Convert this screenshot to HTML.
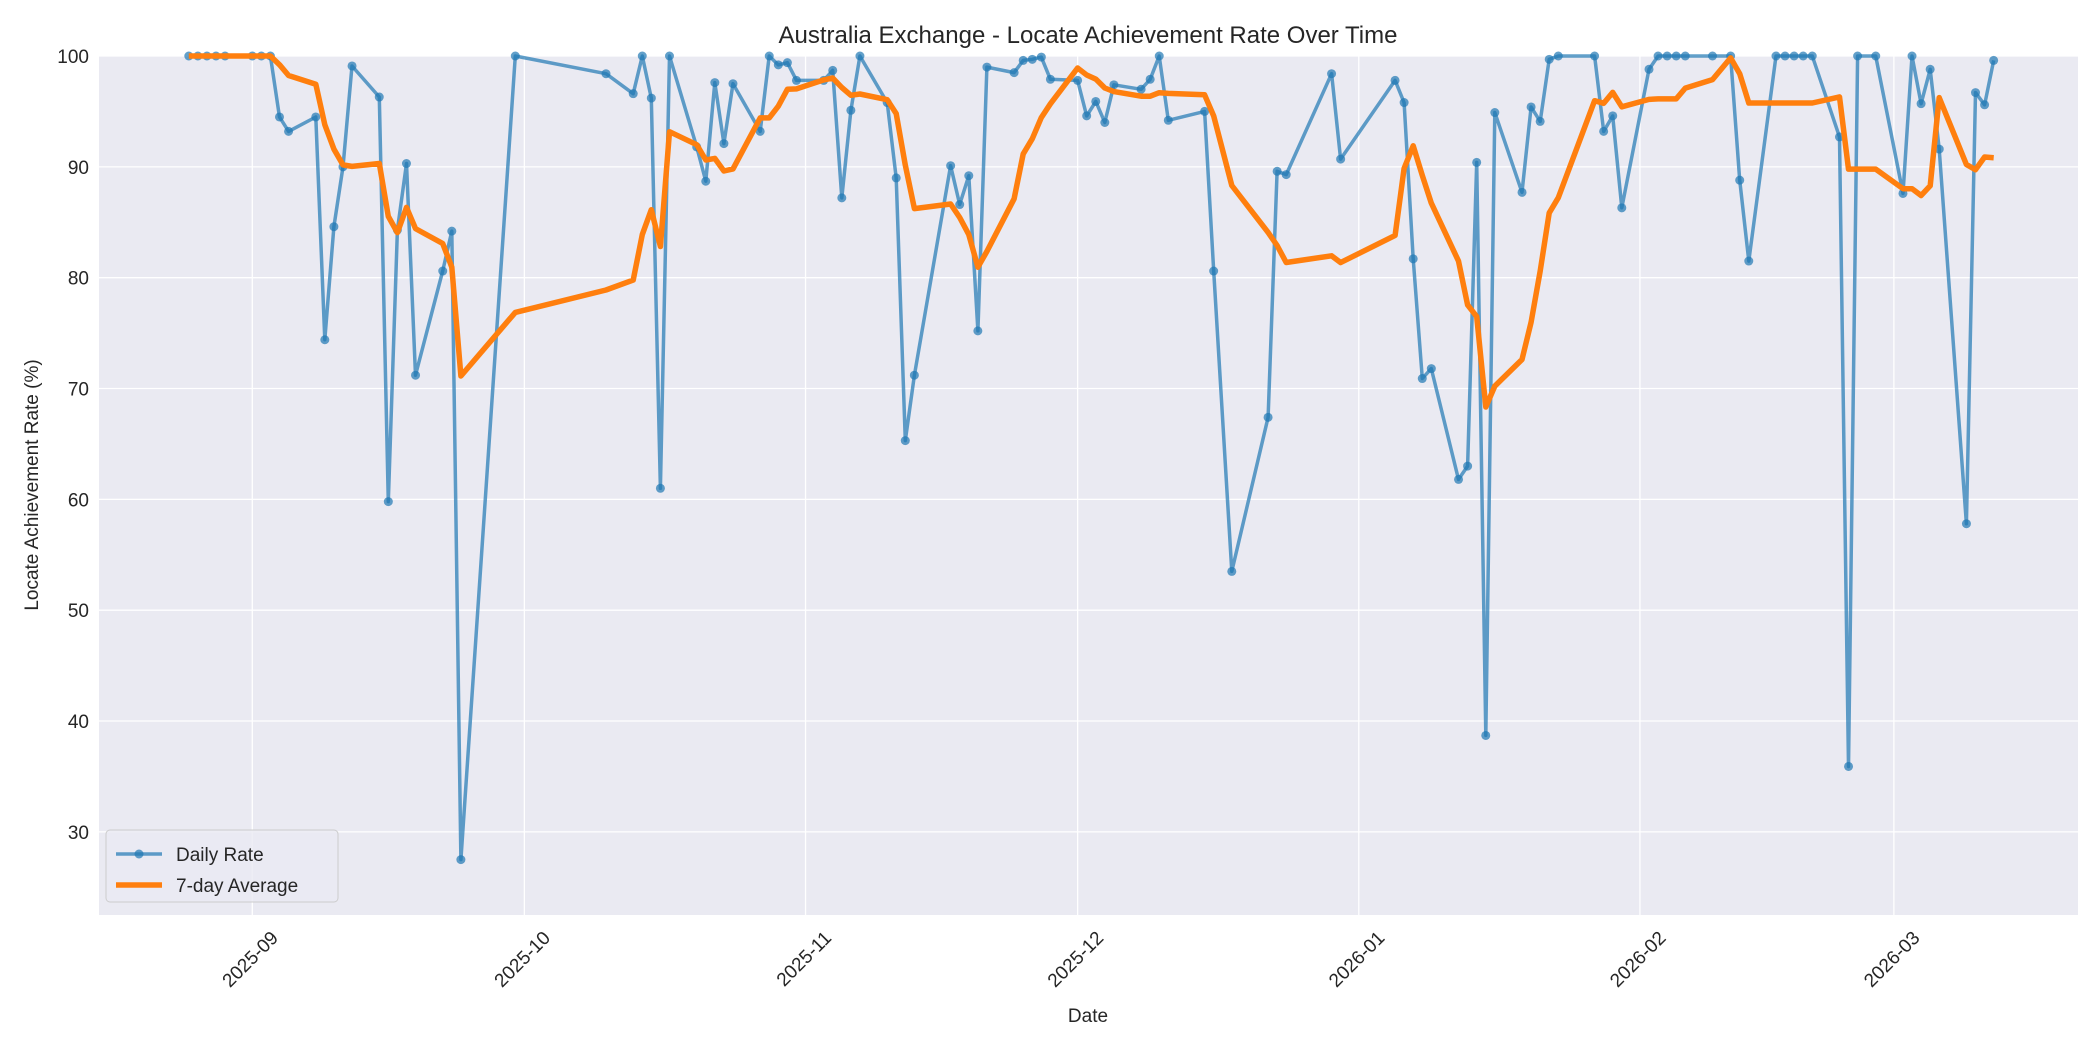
<!DOCTYPE html>
<html><head><meta charset="utf-8"><style>
html,body{margin:0;padding:0;background:#fff}
svg{display:block;font-family:"Liberation Sans","DejaVu Sans",sans-serif}
</style></head><body>
<svg id="chart" width="2100" height="1050" xmlns="http://www.w3.org/2000/svg">
<rect x="0" y="0" width="2100" height="1050" fill="#fff"/>
<rect x="99" y="56" width="1979" height="859" fill="#eaeaf2"/>
<g id="grid"></g>
<g id="ticks"></g>
<g id="series"></g>
<text x="1088" y="43" text-anchor="middle" font-size="24" fill="#262626">Australia Exchange - Locate Achievement Rate Over Time</text>
<text x="1088" y="1022" text-anchor="middle" font-size="19" fill="#262626">Date</text>
<text transform="translate(38,485) rotate(-90)" text-anchor="middle" font-size="19" fill="#262626">Locate Achievement Rate (%)</text>
<g>
<rect x="106" y="830" width="232" height="72" rx="4" fill="#eaeaf2" fill-opacity="0.8" stroke="#cccccc" stroke-width="1"/>
<g>
<line x1="116" y1="854" x2="162" y2="854" stroke="#1f77b4" stroke-opacity="0.7" stroke-width="3.5"/>
<circle cx="139" cy="854" r="4.5" fill="#1f77b4" fill-opacity="0.7"/>
<text x="176" y="861" font-size="19" fill="#262626">Daily Rate</text></g>
<g>
<line x1="116" y1="885" x2="162" y2="885" stroke="#ff7f0e" stroke-width="5.5"/>
<text x="176" y="892" font-size="19" fill="#262626">7-day Average</text></g>
</g>
</svg>
<script>
// days offset from 2025-09-01
const days = [-7,-6,-5,-4,-3,0,1,2,3,4,7,8,9,10,11,14,15,16,17,18,21,22,23,29,39,42,43,44,45,46,49,50,51,52,53,56,57,58,59,60,63,64,65,66,67,70,71,72,73,77,78,79,80,81,84,85,86,87,88,91,92,93,94,95,98,99,100,101,105,106,108,112,113,114,119,120,126,127,128,129,130,133,134,135,136,137,140,141,142,143,144,148,149,150,151,154,155,156,157,158,161,163,164,165,168,169,170,171,172,175,176,177,179,182,183,184,185,186,189,190,191,192];
const dailyRate = [100,100,100,100,100,100,100,100,94.5,93.2,94.5,74.4,84.6,90,99.1,96.3,59.8,84.3,90.3,71.2,80.6,84.2,27.5,100,98.4,96.6,100,96.2,61,100,91.8,88.7,97.6,92.1,97.5,93.2,100,99.2,99.4,97.8,97.8,98.7,87.2,95.1,100,95.8,89,65.3,71.2,90.1,86.6,89.2,75.2,99,98.5,99.6,99.7,99.9,97.9,97.8,94.6,95.9,94,97.4,97,97.9,100,94.2,95,80.6,53.5,67.4,89.6,89.3,98.4,90.7,97.8,95.8,81.7,70.9,71.8,61.8,63,90.4,38.7,94.9,87.7,95.4,94.1,99.7,100,100,93.2,94.6,86.3,98.8,100,100,100,100,100,100,88.8,81.5,100,100,100,100,100,92.7,35.9,100,100,87.6,100,95.7,98.8,91.6,57.8,96.7,95.6,99.6];
const yTicks = [30,40,50,60,70,80,90,100];
const xTickLabels = ["2025-09","2025-10","2025-11","2025-12","2026-01","2026-02","2026-03"];
const xTickDays = [0,30,61,91,122,153,181];

const X0=99,X1=2078,Y0=56,Y1=915,DMIN=-16.9,DMAX=201.3,VMIN=22.5,VMAX=100;
const sx=d=>X0+(d-DMIN)/(DMAX-DMIN)*(X1-X0);
const sy=v=>Y1-(v-VMIN)/(VMAX-VMIN)*(Y1-Y0);
const NS="http://www.w3.org/2000/svg";
function mk(tag,attrs,parent){const e=document.createElementNS(NS,tag);for(const k in attrs)e.setAttribute(k,attrs[k]);parent.appendChild(e);return e;}
const grid=document.getElementById('grid'),ticks=document.getElementById('ticks'),ser=document.getElementById('series');
yTicks.forEach(v=>{
  const l=mk('line',{x1:X0,x2:X1,y1:sy(v),y2:sy(v),stroke:'#fff','stroke-width':1.3},grid);
  
  
  const t=mk('text',{x:X0-10,y:sy(v)+7,'text-anchor':'end','font-size':19,fill:'#262626'},ticks);
  t.textContent=v;
  
  
});
xTickDays.forEach((d,i)=>{
  const x=sx(d);
  const l=mk('line',{x1:x,x2:x,y1:Y0,y2:Y1,stroke:'#fff','stroke-width':1.3},grid);
  
  
  const t=mk('text',{transform:`translate(${x+27},${Y1+24}) rotate(-45)`,'text-anchor':'end','font-size':19,fill:'#262626'},ticks);
  t.textContent=xTickLabels[i];
  
  
});
// daily line
const dp=days.map((d,i)=>sx(d).toFixed(1)+','+sy(dailyRate[i]).toFixed(1)).join(' ');
const dl=mk('polyline',{points:dp,fill:'none',stroke:'#1f77b4','stroke-opacity':0.7,'stroke-width':3.5,'stroke-linejoin':'round'},ser);


days.forEach((d,i)=>{
  const c=mk('circle',{cx:sx(d),cy:sy(dailyRate[i]),r:4.5,fill:'#1f77b4','fill-opacity':0.7},ser);
  
  
});
// 7-point rolling average
const avg=dailyRate.map((v,i)=>{const s=dailyRate.slice(Math.max(0,i-6),i+1);return s.reduce((a,b)=>a+b,0)/s.length;});
const ap=days.map((d,i)=>sx(d).toFixed(1)+','+sy(avg[i]).toFixed(1)).join(' ');
const al=mk('polyline',{points:ap,fill:'none',stroke:'#ff7f0e','stroke-width':5.5,'stroke-linejoin':'round'},ser);


</script>
</body></html>
